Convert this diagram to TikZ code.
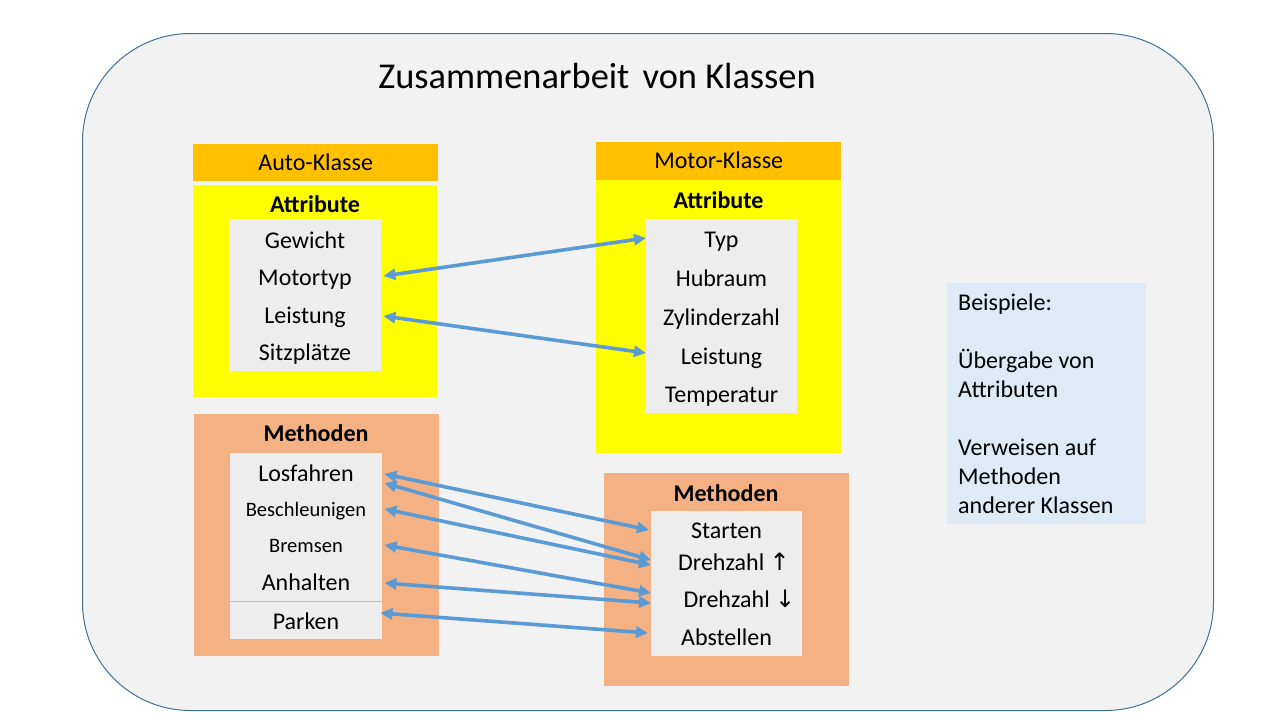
\documentclass[tikz,border=0pt]{standalone}
\usepackage{fontspec}
\setmainfont{Carlito}
\newfontfamily\symfont{DejaVu Sans}
\usetikzlibrary{arrows.meta,calc}
\definecolor{bg}{HTML}{F2F2F2}
\definecolor{frameblue}{HTML}{41719C}
\definecolor{hdr}{HTML}{FFC000}
\definecolor{yel}{HTML}{FFFF00}
\definecolor{salmon}{HTML}{F4B183}
\definecolor{innergrey}{HTML}{EDEDED}
\definecolor{sideblue}{HTML}{DEEBF7}
\definecolor{arrowblue}{HTML}{5B9BD5}
\begin{document}
\begin{tikzpicture}[x=1pt,y=-1pt,
  t/.style={font=\fontsize{24}{29}\selectfont, inner sep=0pt, text height=15.5pt, text depth=0pt},
  ts/.style={font=\fontsize{20.5}{25}\selectfont, inner sep=0pt, text height=13.2pt, text depth=0pt},
  tb/.style={t, font=\fontsize{24}{29}\selectfont\bfseries},
  box/.style={anchor=north west, inner sep=0pt, draw=none},
  link/.style={draw=arrowblue, line width=3.6pt, {Triangle[length=12pt,width=11pt]}-{Triangle[length=12pt,width=11pt]}},
]
\useasboundingbox (0,0) rectangle (1280,720);
\fill[white] (0,0) rectangle (1280,720);

% outer frame
\node[box, fill=bg, draw=frameblue, line width=1pt, rounded corners=108pt, minimum width=1131pt, minimum height=677pt] (frame) at (82,33) {};

% title
\node[font=\fontsize{36.4}{43}\selectfont, inner sep=0pt, text height=23.4pt, text depth=0pt] (title) at (597,76.5) {Zusammenarbeit\hspace{5pt} von Klassen};

% Auto class
\node[box, t, fill=hdr, minimum width=245pt, minimum height=37pt] (autoh) at (193,144) {Auto-Klasse};
\node[box, fill=yel, minimum width=244pt, minimum height=212pt] (autoa) at (193,185) {};
\node[tb] (autoat) at (315,204.5) {Attribute};
\node[box, fill=innergrey, minimum width=152pt, minimum height=152pt] (lai) at (229,219) {};
\node[t] (gewicht) at (305,240.5) {Gewicht};
\node[t] (motortyp) at (305,277.5) {Motortyp};
\node[t] (leistungA) at (305,315.5) {Leistung};
\node[t] (sitz) at (305,352.5) {Sitzplätze};

% Motor class
\node[box, t, fill=hdr, minimum width=245pt, minimum height=38pt] (motorh) at (596,142) {Motor-Klasse};
\node[box, fill=yel, minimum width=245pt, minimum height=273pt] (motora) at (596,180) {};
\node[tb] (motorat) at (718.5,200.5) {Attribute};
\node[box, fill=innergrey, minimum width=151pt, minimum height=194pt] (rai) at (646,219) {};
\node[t] (typ) at (721.5,239.5) {Typ};
\node[t] (hubraum) at (721.5,278.5) {Hubraum};
\node[t] (zyl) at (721.5,317.5) {Zylinderzahl};
\node[t] (leistungM) at (721.5,356.5) {Leistung};
\node[t] (temp) at (721.5,394.5) {Temperatur};

% Auto methods
\node[box, fill=salmon, minimum width=245pt, minimum height=242pt] (autom) at (194,414) {};
\node[tb] (automt) at (316,433.5) {Methoden};
\node[box, fill=innergrey, minimum width=152pt, minimum height=186pt] (lmi) at (230,453) {};
\draw[salmon, line width=1pt] ($(lmi.north west)+(0,148)$) -- ($(lmi.north east)+(0,148)$);
\node[t] (los) at (306,473.5) {Losfahren};
\node[ts] (besch) at (306,509.5) {Beschleunigen};
\node[ts] (brems) at (306,545.5) {Bremsen};
\node[t] (anh) at (306,582.5) {Anhalten};
\node[t] (park) at (306,621.5) {Parken};

% Motor methods
\node[box, fill=salmon, minimum width=245pt, minimum height=213pt] (motorm) at (604,473) {};
\node[tb] (motormt) at (726,493.5) {Methoden};
\node[box, fill=innergrey, minimum width=151pt, minimum height=145pt] (rmi) at (651,511) {};
\node[t] (start) at (726.5,530.5) {Starten};
\node[t] (dz1) at (734,562.5) {Drehzahl {\symfont ↑}};
\node[t] (dz2) at (739.5,599.5) {Drehzahl {\symfont ↓}};
\node[t] (abst) at (726.5,637.5) {Abstellen};

% side box
\node[box, fill=sideblue, minimum width=199pt, minimum height=241pt] (side) at (947,283) {};
\node[anchor=west, inner sep=0pt, align=left, font=\fontsize{24}{29}\selectfont] (sidetext) at (958,403.5)
  {Beispiele:\\[29pt]Übergabe von\\Attributen\\[29pt]Verweisen auf\\Methoden\\anderer Klassen};

% connectors: attributes
\draw[link] ($(motortyp -| lai.east)+(2,-1.5)$) -- ($(typ -| rai.west)+(0,-1.5)$);
\draw[link] ($(leistungA -| lai.east)+(2,0.5)$) -- ($(leistungM -| rai.west)+(0,-3.5)$);

% connectors: methods
\draw[link] ($(los -| lmi.east)+(2,0.5)$) -- ($(start -| rmi.west)+(-2,-0.5)$);
\draw[link] ($(los -| lmi.east)+(2,9.5)$) -- ($(dz1 -| rmi.west)+(0,-2.5)$);
\draw[link] ($(besch -| lmi.east)+(2,-0.5)$) -- ($(dz1 -| rmi.west)+(0,2.5)$);
\draw[link] ($(brems -| lmi.east)+(2,-0.5)$) -- ($(dz2 -| rmi.west)+(0,-6.5)$);
\draw[link] ($(anh -| lmi.east)+(2,0.5)$) -- ($(dz2 -| rmi.west)+(0,3.5)$);
\draw[link] ($(park -| lmi.east)+(-2,-8.5)$) -- ($(abst -| rmi.west)+(-3,-4.5)$);
\end{tikzpicture}
\end{document}
